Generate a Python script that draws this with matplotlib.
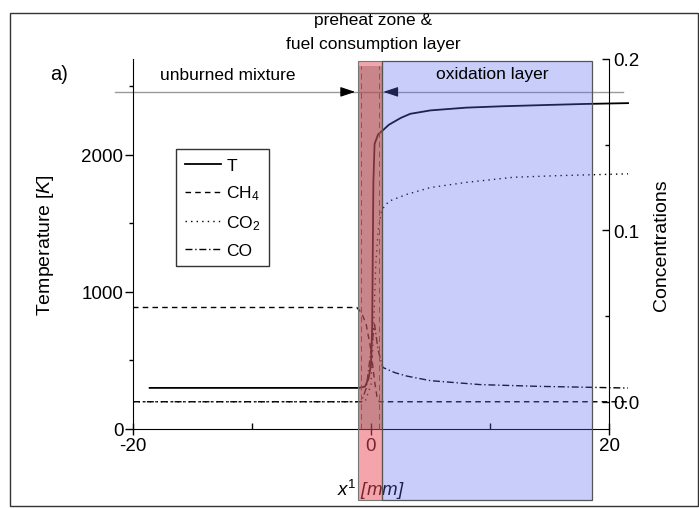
import numpy as np
import matplotlib
matplotlib.use("Agg")
import matplotlib.pyplot as plt
import matplotlib.transforms as mtransforms
from matplotlib.patches import Rectangle
from matplotlib.lines import Line2D

plt.rcParams['font.family'] = ['Liberation Sans', 'DejaVu Sans']
plt.rcParams['mathtext.fontset'] = 'custom'
plt.rcParams['mathtext.rm'] = 'Liberation Sans'
plt.rcParams['mathtext.it'] = 'Liberation Sans:italic'
plt.rcParams['axes.unicode_minus'] = False

# Temperature profile (left axis, K)
x_T = [-18.6, -1.0, -0.5, -0.2, 0.0, 0.1, 0.15, 0.2, 0.3, 0.6, 1.0, 1.5, 2.5, 3.3, 5, 8, 11, 15, 18, 21.6]
T = [300, 300, 310, 370, 470, 750, 1300, 1800, 2080, 2150, 2180, 2220, 2270, 2300, 2325, 2345, 2355, 2365, 2372, 2378]

# Concentrations (right axis)
x_ch4 = [-20, -1.2, -0.8, -0.4, 0.0, 0.3, 0.5, 0.7, 21.6]
ch4 = [0.055, 0.055, 0.052, 0.045, 0.030, 0.012, 0.003, 0.0, 0.0]

x_co2 = [-20, -0.5, 0.0, 0.2, 0.4, 0.6, 0.9, 1.5, 3, 5, 8, 12, 16, 21.6]
co2 = [0.0, 0.0, 0.01, 0.04, 0.08, 0.10, 0.112, 0.117, 0.121, 0.125, 0.128, 0.131, 0.132, 0.133]

x_co = [-20, -0.8, -0.4, 0.0, 0.3, 0.6, 1.0, 2, 3, 5, 9.2, 14, 21.6]
co = [0.0, 0.0, 0.008, 0.030, 0.045, 0.030, 0.020, 0.017, 0.015, 0.0123, 0.010, 0.009, 0.008]

# zone limits (mm)
preheat = (-1.1, 0.9)
oxidation = (0.9, 18.6)
dashes_x = [-0.85, 0.65]

fig = plt.figure(figsize=(6.99, 5.10), dpi=100)
W, H = 699, 510
ax = fig.add_axes([133 / W, 1 - 430 / H, (609 - 133) / W, (430 - 60) / H])
ax2 = ax.twinx()

# figure frame
fig.add_artist(Rectangle((10 / W, 1 - 507 / H), 688 / W, 493 / H, transform=fig.transFigure,
                         fill=False, edgecolor='#333333', lw=1))

ax.plot(x_T, T, color='black', lw=1.3, clip_on=False, zorder=2)
ax2.plot(x_ch4, ch4, color='black', lw=1.0, ls=(0, (4, 3)), clip_on=False, zorder=2)
ax2.plot(x_co2, co2, color='black', lw=1.0, ls=(0, (1, 3)), clip_on=False, zorder=2)
ax2.plot(x_co, co, color='black', lw=1.0, ls=(0, (5, 2, 1, 2)), clip_on=False, zorder=2)

ax.set_xlim(-20, 20)
ax.set_ylim(0, 2700)
ax2.set_ylim(-0.0159, 0.2)

ax.set_xticks([-20, 0, 20])
ax.set_xticks([-10, 10], minor=True)
ax.set_yticks([0, 1000, 2000])
ax.set_yticks([500, 1500, 2500], minor=True)
ax2.set_yticks([0.0, 0.1, 0.2])
ax2.set_yticks([0.05, 0.15], minor=True)
ax2.set_yticklabels(['0.0', '0.1', '0.2'])

for a in (ax, ax2):
    a.spines['top'].set_visible(False)
    a.set_facecolor('none')
ax2.spines['left'].set_visible(False)
ax2.spines['bottom'].set_visible(False)
ax.spines['right'].set_visible(False)
ax.tick_params(axis='x', which='major', direction='inout', length=8, width=1, labelsize=13.5, pad=2)
ax.tick_params(axis='x', which='minor', direction='in', length=4, width=1)
ax.tick_params(axis='y', which='major', direction='out', length=6, width=1, labelsize=13.5, pad=1)
ax.tick_params(axis='y', which='minor', direction='out', length=3, width=1)
ax2.tick_params(axis='y', which='major', direction='in', length=5, width=1, labelsize=13.5, pad=3)
ax2.tick_params(axis='y', which='minor', direction='in', length=3, width=1)

ax.set_xlabel(r'$\mathit{x}^{\mathit{1}}$ [mm]', fontsize=13.5, labelpad=16, style='italic')
ax.set_ylabel(r'Temperature $\mathit{[K]}$', fontsize=14, labelpad=18)
ax2.set_ylabel('Concentrations', fontsize=14, labelpad=10)

# arrow line
ax.plot([-21.5, 21.2], [2460, 2460], color='#9a9a9a', lw=1, clip_on=False, zorder=2)
ax.annotate('', xy=(preheat[0], 2460), xytext=(preheat[0] - 1.2, 2460),
            arrowprops=dict(arrowstyle='-|>,head_length=0.9,head_width=0.3', color='black', lw=0.8),
            zorder=2)
ax.annotate('', xy=(preheat[1] - 0.1, 2460), xytext=(preheat[1] + 1.1, 2460),
            arrowprops=dict(arrowstyle='-|>,head_length=0.9,head_width=0.3', color='black', lw=0.8),
            zorder=2)

# zone overlays
trans = mtransforms.blended_transform_factory(ax2.transData, ax2.transAxes)
ybot = (430 - 501) / 370
ytop = (430 - 62) / 370
ax2.add_patch(Rectangle((preheat[0], ybot), preheat[1] - preheat[0], ytop - ybot, transform=trans,
                        facecolor=(235 / 255, 75 / 255, 89 / 255), alpha=0.5, edgecolor='none',
                        clip_on=False, zorder=3))
ax2.add_patch(Rectangle((preheat[0], 0), preheat[1] - preheat[0], (430 - 67) / 370, transform=trans,
                        facecolor=(120 / 255, 80 / 255, 80 / 255), alpha=0.35, edgecolor='none',
                        clip_on=False, zorder=3))
ax2.add_patch(Rectangle((preheat[0], ybot), preheat[1] - preheat[0], ytop - ybot, transform=trans,
                        fill=False, edgecolor='#777777', lw=0.8, clip_on=False, zorder=3))
ax2.add_patch(Rectangle((oxidation[0], ybot), oxidation[1] - oxidation[0], ytop - ybot, transform=trans,
                        facecolor=(90 / 255, 105 / 255, 240 / 255), alpha=0.33, edgecolor='none',
                        clip_on=False, zorder=3))
ax2.add_patch(Rectangle((oxidation[0], ybot), oxidation[1] - oxidation[0], ytop - ybot, transform=trans,
                        fill=False, edgecolor='#555555', lw=0.9, clip_on=False, zorder=3))
for xd in dashes_x:
    ax2.plot([xd, xd], [0, (430 - 67) / 370], transform=trans, color='#a04858', lw=0.7,
             ls=(0, (6, 4)), zorder=3, clip_on=False)

# texts
fig.text(50 / W, 1 - 74 / H, 'a)', fontsize=14.5, ha='left', va='center')
fig.text(373 / W, 1 - 20 / H, 'preheat zone &', fontsize=12.5, ha='center', va='center')
fig.text(373 / W, 1 - 44 / H, 'fuel consumption layer', fontsize=12.5, ha='center', va='center')
fig.text(228 / W, 1 - 75 / H, 'unburned mixture', fontsize=12.5, ha='center', va='center')
fig.text(492 / W, 1 - 75 / H, 'oxidation layer', fontsize=12.5, ha='center', va='center')

# legend
handles = [Line2D([], [], color='black', lw=1.3),
           Line2D([], [], color='black', lw=1.0, ls=(0, (4, 3))),
           Line2D([], [], color='black', lw=1.0, ls=(0, (1, 3))),
           Line2D([], [], color='black', lw=1.0, ls=(0, (5, 2, 1, 2)))]
labels = ['T', r'CH$_4$', r'CO$_2$', 'CO']
leg = fig.legend(handles, labels, loc='upper left', bbox_to_anchor=(176 / W, 1 - 150 / H),
                 bbox_transform=fig.transFigure, fontsize=12.5, frameon=True, fancybox=False,
                 edgecolor='black', handlelength=2.1, handletextpad=0.3, labelspacing=0.62,
                 borderpad=0.5, borderaxespad=0)
leg.get_frame().set_linewidth(1)

fig.savefig('out.png', dpi=100)
